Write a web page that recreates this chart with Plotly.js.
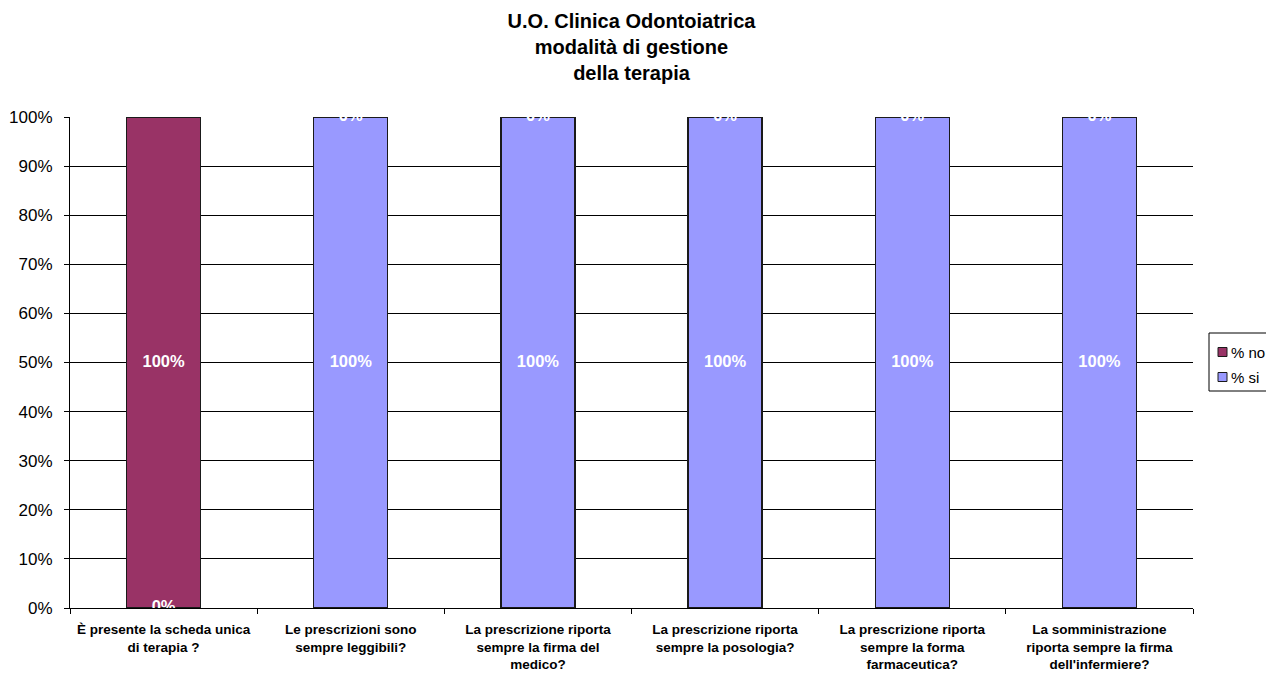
<!DOCTYPE html>
<html>
<head>
<meta charset="utf-8">
<script src="https://cdn.plot.ly/plotly-3.0.1.min.js"></script>
<style>html,body{margin:0;padding:0;background:#fff;}</style>
</head>
<body>
<div id="chart" style="width:1266px;height:673px;"></div>
<script>
const categories = [
  "È presente la scheda unica<br>di terapia ?",
  "Le prescrizioni sono<br>sempre leggibili?",
  "La prescrizione riporta<br>sempre la firma del<br>medico?",
  "La prescrizione riporta<br>sempre la posologia?",
  "La prescrizione riporta<br>sempre la forma<br>farmaceutica?",
  "La somministrazione<br>riporta sempre la firma<br>dell'infermiere?"
];
const pctSi = [0, 100, 100, 100, 100, 100];
const pctNo = [100, 0, 0, 0, 0, 0];
const seriesNames = ["% si", "% no"];
const seriesColors = ["#9999FF", "#993366"];
const yTickVals = [0,10,20,30,40,50,60,70,80,90,100];
const yTickText = ["0%","10%","20%","30%","40%","50%","60%","70%","80%","90%","100%"];

const cats = categories.map(c => "<b>" + c + "</b>");
const fontFam = "Liberation Sans, Arial, sans-serif";

const traceSi = {
  type: "bar", name: seriesNames[0], x: cats, y: pctSi,
  marker: {color: seriesColors[0], line: {color: "#1a1a1a", width: 1.3}},
  hoverinfo: "skip", showlegend: false
};
const traceNo = {
  type: "bar", name: seriesNames[1], x: cats, y: pctNo,
  marker: {color: seriesColors[1], line: {color: "#1a1a1a", width: 1.3}},
  hoverinfo: "skip", showlegend: false
};
// data labels placed at the middle of each stacked segment
const labelSi = {
  type: "scatter", mode: "text", x: cats,
  y: pctSi.map(v => v / 2),
  text: pctSi.map(v => "<b>" + v + "%</b>"),
  textfont: {color: "#ffffff", size: 16.5, family: fontFam},
  showlegend: false, hoverinfo: "skip", cliponaxis: true
};
const labelNo = {
  type: "scatter", mode: "text", x: cats,
  y: pctNo.map((v, i) => pctSi[i] + v / 2),
  text: pctNo.map(v => "<b>" + v + "%</b>"),
  textfont: {color: "#ffffff", size: 16.5, family: fontFam},
  showlegend: false, hoverinfo: "skip", cliponaxis: true
};

// Plot area in pixels (for a compact Excel-style legend box at the right)
const L = 70, R = 1193, T = 117, B = 608;
const px = v => (v - L) / (R - L);
const py = v => (B - v) / (B - T);
const legendOrder = [1, 0]; // "% no" first, then "% si"
const legendRowsY = [352, 377];
const shapes = [{
  type: "rect", xref: "paper", yref: "paper",
  x0: px(1209), x1: px(1275), y0: py(391), y1: py(333),
  line: {color: "#000000", width: 1}, fillcolor: "#ffffff", layer: "above"
}];
const annotations = [];
legendOrder.forEach((si, k) => {
  const cy = legendRowsY[k];
  shapes.push({
    type: "rect", xref: "paper", yref: "paper",
    x0: px(1218), x1: px(1227), y0: py(cy + 4.5), y1: py(cy - 4.5),
    line: {color: "#1a1a1a", width: 1}, fillcolor: seriesColors[si], layer: "above"
  });
  annotations.push({
    xref: "paper", yref: "paper", x: px(1229), y: py(cy),
    xanchor: "left", yanchor: "middle", showarrow: false,
    text: seriesNames[si], font: {size: 15, family: fontFam, color: "#000000"}
  });
});

const layout = {
  width: 1266, height: 673,
  paper_bgcolor: "#ffffff", plot_bgcolor: "#ffffff",
  margin: {l: L, r: 1266 - R, t: T, b: 673 - B, autoexpand: false},
  barmode: "stack", bargap: 0.605,
  font: {family: fontFam, color: "#000000"},
  title: {
    text: "<b>U.O. Clinica Odontoiatrica<br>modalità di gestione<br>della terapia</b>",
    font: {size: 20, family: fontFam, color: "#000000"},
    x: 0.5, xref: "paper", y: 0.958, yref: "container", yanchor: "middle"
  },
  xaxis: {
    type: "category", tickson: "boundaries", ticks: "outside", ticklen: 5,
    tickcolor: "#000000", showline: true, linecolor: "#000000", linewidth: 1,
    showgrid: false, tickfont: {size: 13.5, family: fontFam, color: "#000000"},
    tickangle: 0, ticklabelstandoff: 9, fixedrange: true
  },
  yaxis: {
    range: [0, 100], tickvals: yTickVals, ticktext: yTickText,
    ticks: "outside", ticklen: 5, tickcolor: "#000000",
    showline: true, linecolor: "#000000", linewidth: 1,
    showgrid: true, gridcolor: "#000000", gridwidth: 1,
    zeroline: false, tickfont: {size: 17, family: fontFam, color: "#000000"},
    ticklabelstandoff: 8, fixedrange: true
  },
  shapes: shapes,
  annotations: annotations,
  showlegend: false
};

Plotly.newPlot("chart", [traceSi, traceNo, labelSi, labelNo], layout, {displayModeBar: false, staticPlot: true});
</script>
</body>
</html>
